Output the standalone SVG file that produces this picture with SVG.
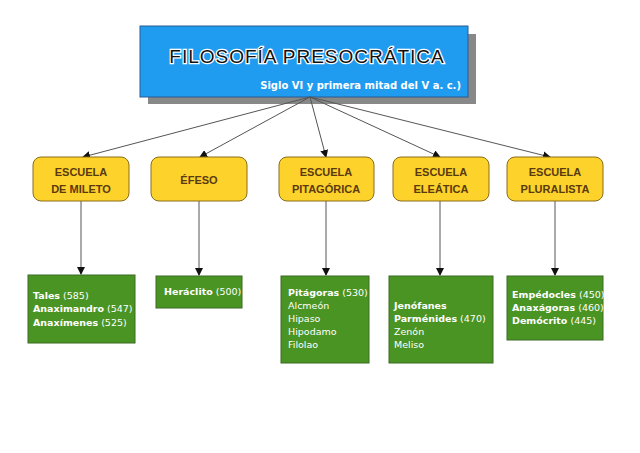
<svg xmlns="http://www.w3.org/2000/svg" width="640" height="453" viewBox="0 0 640 453">
<defs>
<style>
.y{fill:#fdd22a;stroke:#8a6d1a;stroke-width:1}
.g{fill:#4a9424;stroke:#3a6a20;stroke-width:1}
.yt{font-family:"Liberation Sans",sans-serif;font-size:11px;font-weight:bold;fill:#5a3a10;text-anchor:middle}
.gt{font-family:"DejaVu Sans",sans-serif;font-size:9.5px;fill:#fff}
.gt b{font-weight:bold}
.c{stroke:#555;stroke-width:1;fill:none;marker-end:url(#a)}
</style>
<marker id="a" markerWidth="8" markerHeight="8" refX="7" refY="4" orient="auto" markerUnits="userSpaceOnUse"><path d="M0,0L8,4L0,8z" fill="#111"/></marker>
</defs>
<rect width="640" height="453" fill="#fff"/>
<g id="title">
<rect x="148" y="34" width="328" height="70" fill="#888"/>
<rect x="140" y="26" width="328" height="71" fill="#1f9cf0" stroke="#2a5a90"/>
<text x="307" y="63" font-family="Liberation Sans,sans-serif" font-size="19" text-anchor="middle" fill="#111" stroke="#fff" stroke-width="2.5" paint-order="stroke" letter-spacing="1">FILOSOFÍA  PRESOCRÁTICA</text>
<text x="461" y="89" font-family="DejaVu Sans,sans-serif" font-size="10" font-weight="bold" text-anchor="end" fill="#fff">Siglo VI y primera mitad del V a. c.)</text>
</g>
<g id="connectors">
<line class="c" x1="310" y1="97" x2="83" y2="157"/>
<line class="c" x1="310" y1="97" x2="200" y2="157"/>
<line class="c" x1="310" y1="97" x2="326" y2="157"/>
<line class="c" x1="310" y1="97" x2="440" y2="157"/>
<line class="c" x1="310" y1="97" x2="550" y2="157"/>
<line class="c" x1="81" y1="201" x2="81" y2="274"/>
<line class="c" x1="199" y1="201" x2="199" y2="275"/>
<line class="c" x1="326" y1="201" x2="326" y2="275"/>
<line class="c" x1="440" y1="201" x2="440" y2="275"/>
<line class="c" x1="555" y1="201" x2="555" y2="275"/>
</g>
<g id="mileto"><rect class="y" x="33" y="157" width="96" height="44" rx="8"/><text class="yt" x="81" y="176">ESCUELA</text><text class="yt" x="81" y="193">DE MILETO</text></g>
<g id="efeso"><rect class="y" x="151" y="157" width="96" height="44" rx="8"/><text class="yt" x="199" y="184">ÉFESO</text></g>
<g id="pitagorica"><rect class="y" x="279" y="157" width="95" height="44" rx="8"/><text class="yt" x="326" y="176">ESCUELA</text><text class="yt" x="326" y="193">PITAGÓRICA</text></g>
<g id="eleatica"><rect class="y" x="393" y="157" width="96" height="44" rx="8"/><text class="yt" x="441" y="176">ESCUELA</text><text class="yt" x="441" y="193">ELEÁTICA</text></g>
<g id="pluralista"><rect class="y" x="507" y="157" width="96" height="44" rx="8"/><text class="yt" x="555" y="176">ESCUELA</text><text class="yt" x="555" y="193">PLURALISTA</text></g>
<g id="g-mileto"><rect class="g" x="28" y="275" width="107" height="68"/><text class="gt" x="33" y="299"><tspan font-weight="bold">Tales</tspan> (585)</text><text class="gt" x="33" y="312"><tspan font-weight="bold">Anaximandro</tspan> (547)</text><text class="gt" x="33" y="326"><tspan font-weight="bold">Anaxímenes</tspan> (525)</text></g>
<g id="g-efeso"><rect class="g" x="156" y="276" width="86" height="32"/><text class="gt" x="164" y="295"><tspan font-weight="bold">Heráclito</tspan> (500)</text></g>
<g id="g-pitagorica"><rect class="g" x="281" y="276" width="88" height="87"/><text class="gt" x="288" y="296"><tspan font-weight="bold">Pitágoras</tspan> (530)</text><text class="gt" x="288" y="309">Alcmeón</text><text class="gt" x="288" y="322">Hipaso</text><text class="gt" x="288" y="335">Hipodamo</text><text class="gt" x="288" y="348">Filolao</text></g>
<g id="g-eleatica"><rect class="g" x="389" y="276" width="104" height="87"/><text class="gt" x="394" y="309"><tspan font-weight="bold">Jenófanes</tspan></text><text class="gt" x="394" y="322"><tspan font-weight="bold">Parménides</tspan> (470)</text><text class="gt" x="394" y="335">Zenón</text><text class="gt" x="394" y="348">Meliso</text></g>
<g id="g-pluralista"><rect class="g" x="507" y="276" width="96" height="64"/><text class="gt" x="512" y="298"><tspan font-weight="bold">Empédocles</tspan> (450)</text><text class="gt" x="512" y="311"><tspan font-weight="bold">Anaxágoras</tspan> (460)</text><text class="gt" x="512" y="324"><tspan font-weight="bold">Demócrito</tspan> (445)</text></g>
</svg>
